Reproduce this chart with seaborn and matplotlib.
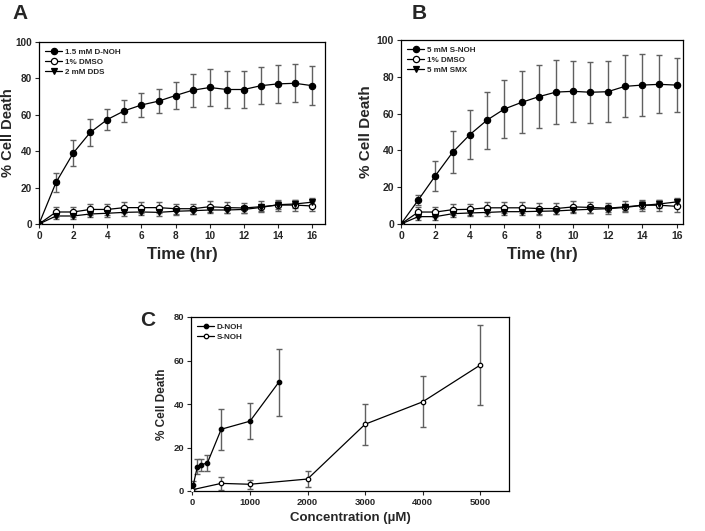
import matplotlib
matplotlib.use("Agg")
import matplotlib.pyplot as plt
import seaborn as sns
import numpy as np
import pandas as pd

sns.set_style("ticks")
plt.rcParams['font.family'] = ['Liberation Sans', 'DejaVu Sans']
plt.rcParams['font.weight'] = 'bold'

# ---------------- data ----------------
time_hr = list(range(0, 17))

a_dnoh = [0, 22.9, 38.9, 50.3, 57.4, 62.2, 65.4, 67.5, 70.6, 73.5, 75.0, 73.9, 73.9, 76.0, 77.0, 77.3, 76.0]
a_dnoh_err = [0, 5.3, 7.0, 7.3, 6.0, 6.2, 6.5, 6.7, 7.6, 9.1, 10.3, 10.0, 10.0, 10.2, 10.4, 10.5, 10.6]
a_dmso = [0, 6.6, 6.6, 8.0, 8.0, 9.0, 9.0, 9.0, 8.4, 8.4, 9.5, 9.0, 8.8, 9.5, 10.4, 10.4, 9.9]
a_dmso_err = [0, 2.8, 2.8, 3.0, 3.0, 3.0, 3.0, 3.0, 2.8, 2.8, 3.0, 3.0, 3.0, 3.0, 3.0, 3.0, 3.0]
a_dds = [0, 4.4, 4.4, 5.5, 5.9, 6.4, 6.6, 6.4, 7.0, 7.3, 7.7, 7.7, 8.0, 9.1, 10.6, 11.0, 12.0]
a_dds_err = [0, 1.8, 1.8, 1.8, 1.8, 1.8, 1.8, 1.8, 1.8, 1.8, 1.8, 1.8, 1.8, 2.0, 2.2, 2.2, 2.2]

b_snoh = [0, 13.0, 26.3, 39.0, 48.6, 56.5, 62.5, 66.1, 69.2, 71.7, 72.1, 71.6, 71.9, 74.8, 75.5, 75.9, 75.5]
b_snoh_err = [0, 2.5, 8.2, 11.3, 13.5, 15.5, 16.0, 16.8, 17.0, 17.4, 16.6, 16.5, 16.7, 16.8, 16.8, 15.7, 14.7]
b_dmso = [0, 6.5, 6.5, 7.8, 8.0, 8.8, 8.8, 8.8, 8.4, 8.4, 9.3, 9.0, 8.6, 9.3, 10.2, 10.2, 9.6]
b_dmso_err = [0, 2.8, 2.8, 3.0, 3.0, 3.0, 3.0, 3.0, 2.8, 2.8, 3.0, 3.0, 3.0, 3.0, 3.0, 3.0, 3.0]
b_smx = [0, 4.0, 4.0, 5.6, 6.0, 6.3, 6.7, 6.7, 6.9, 7.1, 7.6, 8.0, 8.3, 9.0, 10.1, 10.9, 12.0]
b_smx_err = [0, 1.8, 1.8, 1.8, 1.8, 1.8, 1.8, 1.8, 1.8, 1.8, 1.8, 1.8, 1.8, 2.0, 2.2, 2.2, 2.2]

c_dnoh_conc = [15, 85, 155, 260, 500, 1000, 1500]
c_dnoh = [2.8, 11.2, 12.1, 12.9, 28.4, 32.1, 50.0]
c_dnoh_err = [2.0, 3.5, 2.7, 3.8, 9.4, 8.2, 15.3]
c_snoh_conc = [0, 500, 1000, 2000, 3000, 4000, 5000]
c_snoh = [0.6, 3.5, 3.1, 5.5, 30.7, 41.0, 57.9]
c_snoh_err = [0.5, 3.0, 2.0, 3.7, 9.4, 11.7, 18.3]

# ---------------- figure ----------------
fig = plt.figure(figsize=(7.05, 5.31), dpi=100)
W, H = 705, 531

def axes_px(l, t, r, b):
    return fig.add_axes([l / W, 1 - b / H, (r - l) / W, (b - t) / H])

ERRC = '#606060'

def series(ax, x, y, e, label, marker, face, ms, capsize):
    ax.errorbar(x, y, yerr=e, fmt='none', ecolor=ERRC, elinewidth=1.0,
                capsize=capsize, capthick=1.0, zorder=2)
    sns.lineplot(x=x, y=y, ax=ax, color='black', lw=0.9, marker=marker,
                 markersize=ms, markerfacecolor=face, markeredgecolor='black',
                 markeredgewidth=0.9, label=label, zorder=3, errorbar=None)

def style(ax, xlabel, ylabel, lsize, ylsize, tsize, ypad):
    for s in ax.spines.values():
        s.set_visible(True)
        s.set_linewidth(0.9)
        s.set_color('black')
    ax.tick_params(direction='out', length=3, width=0.8, labelsize=tsize, pad=2)
    for lab in ax.get_xticklabels() + ax.get_yticklabels():
        lab.set_fontweight('bold')
    ax.set_xlabel(xlabel, fontsize=lsize, fontweight='bold', labelpad=4)
    ax.set_ylabel(ylabel, fontsize=ylsize, fontweight='bold', labelpad=ypad)
    ax.legend(loc='upper left', frameon=False,
              handlelength=2.0, labelspacing=0.3, handletextpad=0.4,
              borderaxespad=0.4, prop={'weight': 'bold', 'size': 5.8})

# Panel A
axA = axes_px(39, 42, 325, 224)
series(axA, time_hr, a_dnoh, a_dnoh_err, '1.5 mM D-NOH', 'o', 'black', 4.5, 2.5)
series(axA, time_hr, a_dmso, a_dmso_err, '1% DMSO', 'o', 'white', 4.5, 2.5)
series(axA, time_hr, a_dds, a_dds_err, '2 mM DDS', 'v', 'black', 4.5, 2.5)
axA.set_xlim(0, 16.75)
axA.set_ylim(0, 100)
axA.set_xticks(range(0, 17, 2))
axA.set_yticks(range(0, 101, 20))
style(axA, 'Time (hr)', '% Cell Death', 12, 10.5, 7.2, 0)

# Panel B
axB = axes_px(401, 40, 683, 224)
series(axB, time_hr, b_snoh, b_snoh_err, '5 mM S-NOH', 'o', 'black', 4.5, 2.5)
series(axB, time_hr, b_dmso, b_dmso_err, '1% DMSO', 'o', 'white', 4.5, 2.5)
series(axB, time_hr, b_smx, b_smx_err, '5 mM SMX', 'v', 'black', 4.5, 2.5)
axB.set_xlim(0, 16.37)
axB.set_ylim(0, 100)
axB.set_xticks(range(0, 17, 2))
axB.set_yticks(range(0, 101, 20))
style(axB, 'Time (hr)', '% Cell Death', 12, 11, 7.5, 3)

# Panel C
axC = axes_px(191, 317, 509, 491)
series(axC, c_dnoh_conc, c_dnoh, c_dnoh_err, 'D-NOH', 'o', 'black', 3.2, 2.5)
series(axC, c_snoh_conc, c_snoh, c_snoh_err, 'S-NOH', 'o', 'white', 3.2, 2.5)
axC.set_xlim(-25, 5500)
axC.set_ylim(0, 80)
axC.set_xticks(range(0, 5001, 1000))
axC.set_yticks(range(0, 81, 20))
style(axC, 'Concentration (µM)', '% Cell Death', 9.5, 8.5, 6.8, 4)

# Panel letters
fig.text(12 / W, 1 - 4 / H, 'A', fontsize=15, fontweight='bold', va='top', ha='left')
fig.text(412 / W, 1 - 4 / H, 'B', fontsize=15, fontweight='bold', va='top', ha='left')
fig.text(140 / W, 1 - 311 / H, 'C', fontsize=15, fontweight='bold', va='top', ha='left')

fig.savefig('out.png', dpi=100)
